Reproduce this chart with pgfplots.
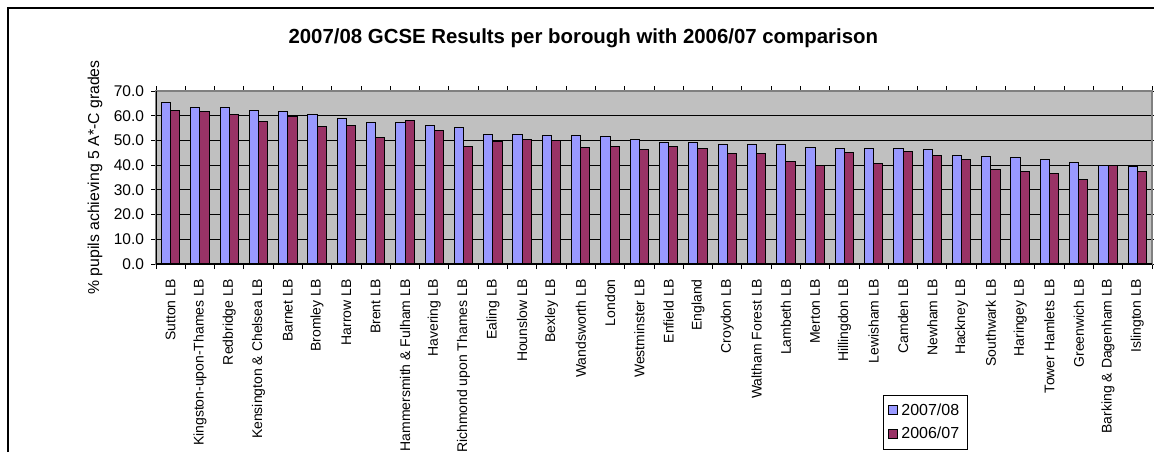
\documentclass[border=0pt]{standalone}
\usepackage{pgfplots}
\pgfplotsset{compat=1.18}
\usepackage{fontspec}
\setmainfont{Liberation Sans}
\definecolor{plotbg}{RGB}{192,192,192}
\definecolor{bluebar}{RGB}{153,153,255}
\definecolor{redbar}{RGB}{153,51,102}
\definecolor{frame}{RGB}{128,128,128}
\begin{document}
\begin{tikzpicture}
\path[use as bounding box] (0,0) rectangle (577pt,226pt);
\draw[line width=0.7pt] (4pt,0) -- (4pt,222pt) -- (577pt,222pt);
\begin{axis}[
  at={(78pt,94pt)}, anchor=south west,
  scale only axis, width=498pt, height=86.5pt,
  ybar=0pt, bar width=4.6pt,
  xmin=-0.5, xmax=33.5, ymin=0, ymax=70,
  axis background/.style={fill=plotbg},
  axis line style={draw=frame, line width=0.8pt},
  xtick={0,...,33},
  xticklabels={Sutton LB, Kingston-upon-Thames LB, Redbridge LB, Kensington \& Chelsea LB, Barnet LB, Bromley LB, Harrow LB, Brent LB, Hammersmith \& Fulham LB, Havering LB, Richmond upon Thames LB, Ealing LB, Hounslow LB, Bexley LB, Wandsworth LB, London, Westminster LB, Enfield LB, England, Croydon LB, Waltham Forest LB, Lambeth LB, Merton LB, Hillingdon LB, Lewisham LB, Camden LB, Newham LB, Hackney LB, Southwark LB, Haringey LB, Tower Hamlets LB, Greenwich LB, Barking \& Dagenham LB, Islington LB},
  xticklabel style={rotate=90, anchor=east, font=\fontsize{7pt}{8pt}\selectfont, inner sep=0pt, xshift=-5pt},
  x tick style={draw=none},
  minor xtick={-0.5,0.5,...,33.5},
  minor x tick style={draw=black, line width=0.5pt},
  minor tick length=2.5pt,
  ytick={0,10,...,70},
  major tick length=2.5pt,
  y tick style={draw=black, line width=0.5pt},
  tick align=outside,
  yticklabel style={font=\fontsize{7.75pt}{9pt}\selectfont, /pgf/number format/.cd, fixed, fixed zerofill, precision=1, assume math mode=true},
  ymajorgrids, major grid style={black, line width=0.5pt},
  ylabel={\% pupils achieving 5 A*-C grades},
  ylabel style={at={(axis description cs:-0.0612,0.5)}, anchor=center, rotate=0, font=\fontsize{7.9pt}{9pt}\selectfont},
  title={\textbf{2007/08 GCSE Results per borough with 2006/07 comparison}},
  title style={at={(axis description cs:0.429,1.237)}, anchor=center, font=\fontsize{10.2pt}{11pt}\selectfont},
  legend style={at={(axis description cs:0.730,-0.757)}, anchor=north west, draw=black, line width=0.5pt, font=\fontsize{8pt}{9pt}\selectfont, row sep=0.5pt, inner sep=2pt, cells={anchor=west}},
  legend image code/.code={\draw[#1, line width=0.4pt] (0pt,-2pt) rectangle (4.5pt,2.5pt);},
]
\addplot[fill=bluebar, draw=black, line width=0.5pt] coordinates {
(0,65.4) (1,63.3) (2,63.3) (3,62.3) (4,61.8) (5,60.3) (6,58.7) (7,57.2) (8,57.2) (9,56.1) (10,55.1) (11,52.5) (12,52.5) (13,51.9) (14,51.9) (15,51.4) (16,50.3) (17,49.2) (18,49.2) (19,48.3) (20,48.3) (21,48.3) (22,47.2) (23,46.7) (24,46.7) (25,46.7) (26,46.3) (27,44.1) (28,43.6) (29,43.0) (30,42.1) (31,41.0) (32,39.9) (33,39.4)};
\addplot[fill=redbar, draw=black, line width=0.5pt] coordinates {
(0,62.3) (1,61.9) (2,60.4) (3,57.7) (4,59.8) (5,55.6) (6,56.1) (7,51.0) (8,58.1) (9,54.1) (10,47.7) (11,49.4) (12,50.4) (13,50.0) (14,47.2) (15,47.7) (16,46.3) (17,47.7) (18,46.8) (19,44.6) (20,44.6) (21,41.5) (22,39.9) (23,45.2) (24,40.5) (25,45.7) (26,44.1) (27,42.1) (28,38.4) (29,37.4) (30,36.8) (31,34.3) (32,39.9) (33,37.4)};
\legend{2007/08, 2006/07}
\draw[black, line width=0.6pt] (rel axis cs:0,0) -- (rel axis cs:1,0);
\draw[black, line width=0.6pt] (rel axis cs:0,0) -- (rel axis cs:0,1);
\end{axis}
\end{tikzpicture}
\end{document}
